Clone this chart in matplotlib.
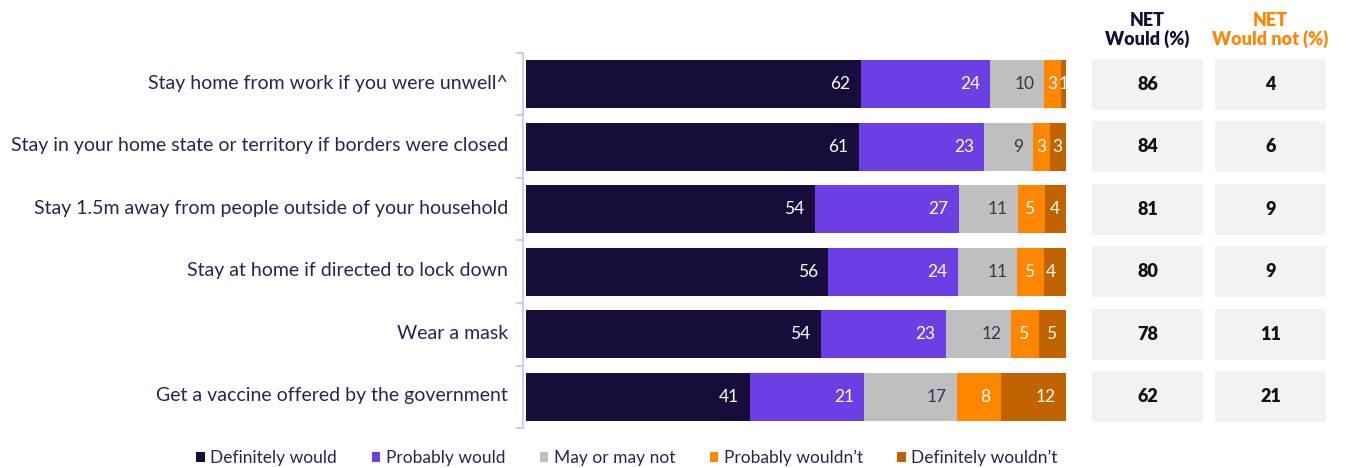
import numpy as np
import matplotlib.pyplot as plt
from matplotlib.patches import Rectangle

plt.rcParams['font.family'] = ['Lato', 'DejaVu Sans']

# data
categories = [
    "Stay home from work if you were unwell^",
    "Stay in your home state or territory if borders were closed",
    "Stay 1.5m away from people outside of your household",
    "Stay at home if directed to lock down",
    "Wear a mask",
    "Get a vaccine offered by the government",
]
definitely_would = [62, 61, 54, 56, 54, 41]
probably_would = [24, 23, 27, 24, 23, 21]
may_or_may_not = [10, 9, 11, 11, 12, 17]
probably_wouldnt = [3, 3, 5, 5, 5, 8]
definitely_wouldnt = [1, 3, 4, 4, 5, 12]
net_would = [86, 84, 81, 80, 78, 62]
net_would_not = [4, 6, 9, 9, 11, 21]

series_names = ["Definitely would", "Probably would", "May or may not",
                "Probably wouldn\u2019t", "Definitely wouldn\u2019t"]
colors = ["#170c3a", "#6b3fe3", "#bfbfbf", "#ff8600", "#c06300"]
text_colors = ["white", "white", "#3a3355", "white", "white"]

navy = "#170c3a"
orange = "#ff8600"

W, H = 1346, 468
fig = plt.figure(figsize=(W / 100, H / 100), dpi=100)

# main stacked bar axes
top_px, bot_px = 53, 428
ax = fig.add_axes([526 / W, 1 - bot_px / H, 540 / W, (bot_px - top_px) / H])

data = np.array([definitely_would, probably_would, may_or_may_not,
                 probably_wouldnt, definitely_wouldnt], dtype=float)
totals = data.sum(axis=0)
shares = data / totals * 100
y = np.arange(len(categories))

left = np.zeros(len(categories))
for i in range(len(series_names)):
    ax.barh(y, shares[i], left=left, height=0.77, color=colors[i],
            label=series_names[i], edgecolor='none')
    for j in range(len(categories)):
        val = int(data[i, j])
        right = left[j] + shares[i, j]
        if shares[i, j] < 4:
            ax.text(left[j] + shares[i, j] / 2, y[j], str(val), ha='center',
                    va='center', color=text_colors[i], fontsize=12.5)
        else:
            ax.text(right - 1.9, y[j], str(val), ha='right', va='center',
                    color=text_colors[i], fontsize=12.5)
    left += shares[i]

ax.set_xlim(0, 100)
ax.set_ylim(len(categories) - 0.5, -0.5)
ax.set_yticks(y - 0.04)
ax.set_yticklabels(categories)
ax.set_yticks(np.arange(-0.5, len(categories)), minor=True)
ax.tick_params(axis='y', which='major', length=0, pad=11, labelsize=14,
               labelcolor="#2a2450")
ax.tick_params(axis='y', which='minor', length=5, color="#c9c2f2", width=1.2)
ax.set_xticks([])
for s in ['top', 'right', 'bottom']:
    ax.spines[s].set_visible(False)
ax.spines['left'].set_color("#c9c2f2")
ax.spines['left'].set_linewidth(1.2)
ax.spines['left'].set_position(('outward', 2))

# NET table axes
tx0, tx1 = 1086, 1332
tax = fig.add_axes([tx0 / W, 1 - bot_px / H, (tx1 - tx0) / W, (bot_px - top_px) / H])
tax.set_xlim(0, 2)
tax.set_ylim(len(categories) - 0.5, -0.5)
tax.axis('off')
bw = 111 / 123
for j in range(len(categories)):
    for k, vals in enumerate([net_would, net_would_not]):
        tax.add_patch(Rectangle((k + 0.5 - bw / 2, y[j] - 0.41), bw, 0.82,
                                facecolor="#f2f2f2", edgecolor='none'))
        tax.text(k + 0.5, y[j], str(vals[j]), ha='center', va='center',
                 fontsize=13, fontweight='heavy', color="#111111")

fig.text(1147 / W, 1 - 30 / H, "NET\nWould (%)", ha='center', va='center',
         fontsize=13, fontweight='heavy', color=navy, linespacing=1.05)
fig.text(1270 / W, 1 - 30 / H, "NET\nWould not (%)", ha='center', va='center',
         fontsize=13, fontweight='heavy', color=orange, linespacing=1.05)

handles, labels = ax.get_legend_handles_labels()
fig.legend(handles, labels, loc='center', bbox_to_anchor=(627 / W, 1 - 458 / H),
           ncol=5, frameon=False, fontsize=12.5, handlelength=0.5, handleheight=0.5,
           handletextpad=0.3, columnspacing=2.0, labelcolor="#2a2450")

fig.savefig("out.png", dpi=100)
